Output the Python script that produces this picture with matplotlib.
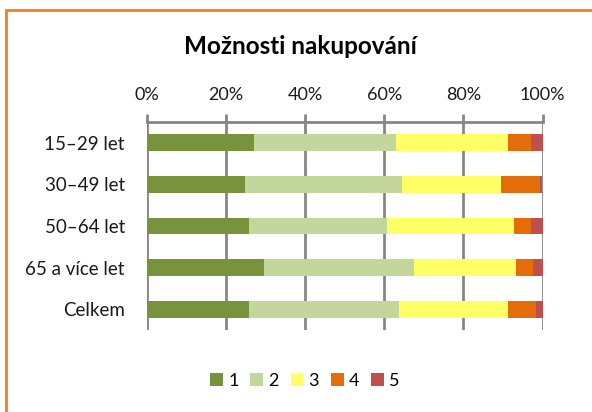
import numpy as np
import matplotlib
matplotlib.use("Agg")
import matplotlib.pyplot as plt
from matplotlib.patches import Rectangle

categories = ["15–29 let", "30–49 let", "50–64 let", "65 a více let", "Celkem"]
series = ["1", "2", "3", "4", "5"]
v1 = [27.0, 24.8, 25.7, 29.7, 25.9]
v2 = [36.0, 39.6, 35.1, 37.9, 37.9]
v3 = [28.2, 25.2, 32.0, 25.8, 27.4]
v4 = [5.9, 9.8, 4.2, 4.1, 7.1]
v5 = [2.9, 0.6, 3.0, 2.5, 1.7]
colors = ["#77933C", "#C3D69B", "#FFFF66", "#E46C0A", "#C0504D"]

plt.rcParams["font.family"] = ["Lato", "DejaVu Sans"]

fig = plt.figure(figsize=(5.92, 4.12), dpi=100)
ax = fig.add_axes([147 / 592, 1 - 330 / 412, 395.5 / 592, 208 / 412])

data = np.array([v1, v2, v3, v4, v5], dtype=float)
data = data / data.sum(axis=0) * 100
y = np.arange(len(categories))
left = np.zeros(len(categories))
handles = []
for vals, name, c in zip(data, series, colors):
    b = ax.barh(y, vals, left=left, height=0.4, color=c, label=name, zorder=3)
    handles.append(b)
    left += vals

ax.set_xlim(0, 100)
ax.set_ylim(4.5, -0.5)
ax.set_yticks(y)
ax.set_yticklabels(categories, fontsize=13.5, color="#1a1a1a")
ax.set_xticks([0, 20, 40, 60, 80, 100])
ax.set_xticklabels(["0%", "20%", "40%", "60%", "80%", "100%"], fontsize=13, color="#1a1a1a")
ax.xaxis.tick_top()
ax.tick_params(axis="x", length=6, width=2, color="#868686", pad=8)
ax.tick_params(axis="y", length=0, pad=16)
ax.grid(axis="x", color="#868686", linewidth=2, zorder=0)
for s in ["right", "bottom", "left"]:
    ax.spines[s].set_visible(False)
ax.spines["top"].set_color("#868686")
ax.spines["top"].set_linewidth(2)

fig.text(0.508, 1 - 47 / 412, "Možnosti nakupování", ha="center", va="center",
         fontsize=17.5, fontweight="bold")

fig.legend(handles=handles, labels=series, loc="center", bbox_to_anchor=(305 / 592, 1 - 381 / 412),
           ncol=5, frameon=False, fontsize=13, handlelength=0.7, handleheight=0.7,
           handletextpad=0.3, columnspacing=0.65)

fig.patches.append(Rectangle((6 / 592, -0.1), 1.2, 1 - 10 / 412 + 0.1, transform=fig.transFigure,
                             fill=False, edgecolor="#F07F23", linewidth=2, figure=fig))

fig.savefig("out.png", dpi=100)
